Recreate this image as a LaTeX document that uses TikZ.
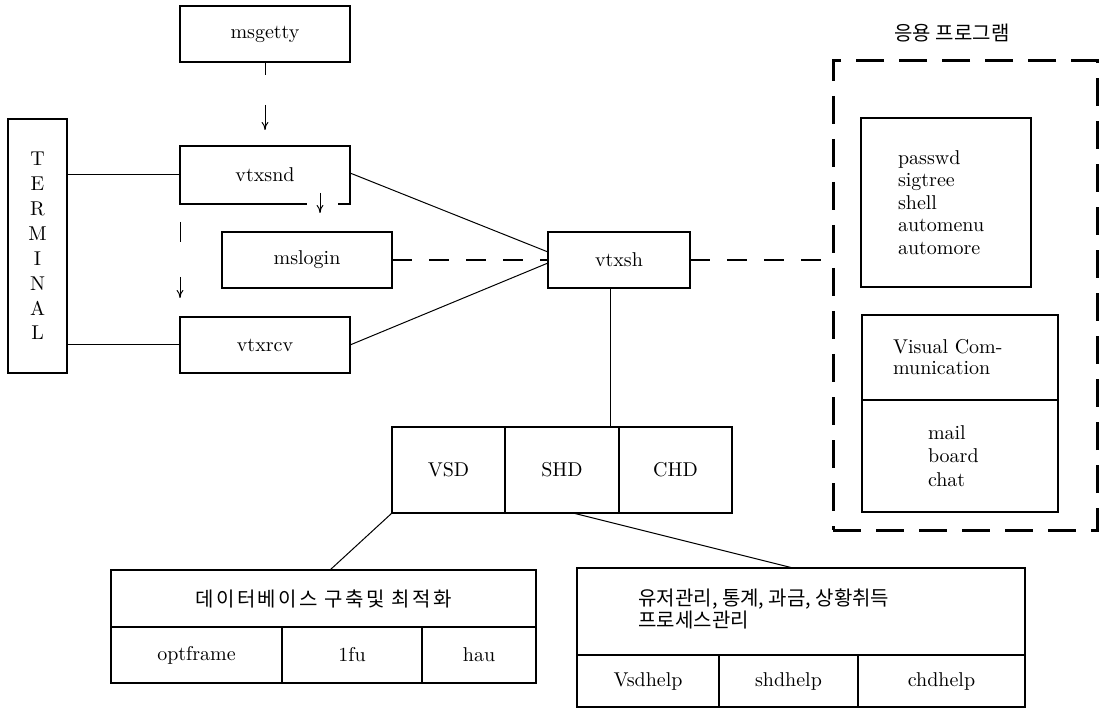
\documentclass[tikz,border=0pt]{standalone}
\usepackage{fontspec}
\newfontfamily\kr{Noto Sans CJK KR}
\usetikzlibrary{positioning,arrows.meta}

\begin{document}
\begin{tikzpicture}[x=0.5pt, y=-0.5pt, font=\fontsize{10}{12}\selectfont,
	box/.style = {draw, line width=0.6pt, inner sep=0pt, outer sep=0pt},
	cell/.style = {box, minimum height=28pt},
	arr/.style = {-{To[length=4pt,width=3.4pt]}, line width=0.5pt},
	link/.style = {line width=0.5pt},
	gap/.style = {line width=0.6pt, dash pattern=on 10pt off 8.5pt},
	frame/.style = {draw, line width=1.5pt, dash pattern=on 14pt off 7.5pt, inner sep=0pt, outer sep=0pt}]
	\useasboundingbox (0,0) rectangle (1101,710);

	% login side
	\node[box, minimum width=85pt, minimum height=28pt] (msgetty) at (265,34) {msgetty};
	\node[box, minimum width=85pt, minimum height=29pt] (vtxsnd) at (265,175) {vtxsnd};
	\node[box, minimum width=85pt, minimum height=28pt] (mslogin) at (307,260) {mslogin};
	\node[box, minimum width=85pt, minimum height=28pt] (vtxrcv) at (265,345) {vtxrcv};
	\node[box, minimum width=29.5pt, minimum height=127pt, align=center,
		font=\fontsize{10}{12.45}\selectfont] (terminal) at (37.5,246) {T\\E\\R\\M\\I\\N\\A\\L};
	\node[box, minimum width=71pt, minimum height=28pt] (vtxsh) at (619,260) {vtxsh};

	% daemons
	\node[box, minimum width=56.5pt, minimum height=43pt] (vsd) at (448.5,470) {VSD};
	\node[box, minimum width=57pt, minimum height=43pt, right=0pt of vsd] (shd) {SHD};
	\node[box, minimum width=56.5pt, minimum height=43pt, right=0pt of shd] (chd) {CHD};
	\draw[line width=1.1pt] (vsd.north west) rectangle (chd.south east);

	% database tools
	\node[box, minimum width=212.5pt, minimum height=28.5pt, font=\kr\addfontfeature{LetterSpace=12}\fontsize{10}{12}\selectfont] (db) at (323.5,598.5) {데이터베이스 구축및 최적화};
	\node[cell, minimum width=85.5pt, anchor=north west] (optframe) at (db.south west) {optframe};
	\node[cell, minimum width=70pt, right=0pt of optframe] (lfu) {1fu};
	\node[cell, minimum width=57pt, right=0pt of lfu] (hau) {hau};

	% help tools
	\node[box, minimum width=224pt, minimum height=43.5pt] (usrhead) at (801,611.5) {};
	\node[anchor=west, align=left, inner sep=0pt, font=\kr\fontsize{10}{11}\selectfont]
		(usrtext) at ([xshift=30.5pt,yshift=1.25pt]usrhead.west) {유저관리, 통계, 과금, 상황취득\\프로세스관리};
	\node[cell, minimum width=71pt, minimum height=26pt, anchor=north west] (vsdhelp) at (usrhead.south west) {Vsdhelp};
	\node[cell, minimum width=69.5pt, minimum height=26pt, right=0pt of vsdhelp] (shdhelp) {shdhelp};
	\node[cell, minimum width=83.5pt, minimum height=26pt, right=0pt of shdhelp] (chdhelp) {chdhelp};

	% application programs
	\node[frame, minimum width=132pt, minimum height=234.5pt] (apps) at (965,295.5) {};
	\node (appslabel) at (952,33) {\kr 응용 프로그램};
	\node[box, minimum height=84.5pt, text width=48pt, inner xsep=18.5pt, align=left,
		font=\fontsize{10}{11.25}\selectfont] (utils) at (946,202.5) {passwd\\sigtree\\shell\\automenu\\automore};
	\node[box, minimum height=42.5pt, text width=67pt, inner xsep=15.5pt, align=left,
		font=\fontsize{10}{10.5}\selectfont] (visual) at (960,357.5) {Visual Com-\\munication};
	\node[box, minimum height=56pt, text width=32pt, inner xsep=33pt, align=left, anchor=north,
		font=\fontsize{10}{11.75}\selectfont] (comm) at (visual.south) {mail\\board\\chat};

	% connections
	\draw[link] (vtxsnd.west -| terminal.east) -- (vtxsnd.west);
	\draw[link] (vtxrcv.west -| terminal.east) -- (vtxrcv.west);
	\draw[link] ([yshift=1pt]vtxsnd.east) -- ([yshift=4pt]vtxsh.west);
	\draw[link] (vtxrcv.east) -- ([yshift=-1.5pt]vtxsh.west);
	\draw[gap] (mslogin) -- (vtxsh);
	\draw[gap] (vtxsh.east) -- (vtxsh.east -| apps.west);
	\draw[link] ([xshift=-4.5pt]vtxsh.south) -- ([xshift=-4.5pt]vtxsh.south |- shd.north);
	\draw[link] (vsd.south west) -- ([xshift=3.25pt]db.north);
	\draw[link] ([xshift=5.5pt]shd.south) -- ([xshift=-4pt]usrhead.north);

	\draw[arr, dash pattern=on 6.5pt off 15pt on 20pt] (msgetty.south) -- ([yshift=8pt]vtxsnd.north);
	\draw[arr, dash pattern=on 10pt off 17.5pt on 20pt] ([yshift=-9pt]vtxsnd.south west) -- ([yshift=9.5pt]vtxrcv.north west);
	\draw[white, line width=1.5pt] ([xshift=21pt]vtxsnd.south) -- ([xshift=36.5pt]vtxsnd.south);
	\draw[arr] ([xshift=27.5pt,yshift=5.5pt]vtxsnd.south) -- ([xshift=27.5pt,yshift=-4.5pt]vtxsnd.south);
\end{tikzpicture}
\end{document}
